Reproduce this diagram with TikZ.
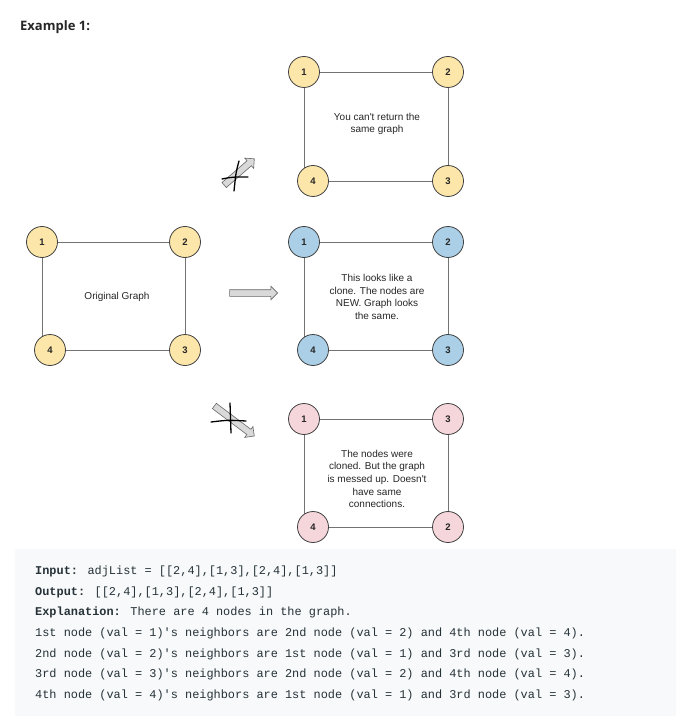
\documentclass[tikz,border=0pt]{standalone}
\usepackage{fontspec}
\setmainfont{Liberation Sans}
\newfontfamily\codefont{Liberation Mono}
\newfontfamily\headfont{Open Sans}
\usepackage{tikz}
\usetikzlibrary{backgrounds,shapes.arrows}

\definecolor{nodeyellow}{HTML}{FCE6A9}
\definecolor{nodeblue}{HTML}{AACFE6}
\definecolor{nodepink}{HTML}{F5D6DB}
\definecolor{codebg}{HTML}{F7F9FA}
\definecolor{codetext}{HTML}{263238}

\begin{document}
\begin{tikzpicture}[x=1pt, y=-1pt, auto,
    thin,main node/.style={circle,draw=black!75,line width=0.8pt,minimum size=31pt,
      inner sep=0pt,font=\bfseries\fontsize{9.5}{10}\selectfont,text=black!85},
    old/.style={main node,fill=nodeyellow},
    clone/.style={main node,fill=nodeblue},
    wrong/.style={main node,fill=nodepink},
    edge/.style={draw=black!55,line width=0.9pt},
    note/.style={align=center,text=black!85,font=\fontsize{10}{12.7}\selectfont},
    fat arrow/.style={single arrow,draw=black!60,fill=black!15,line width=0.6pt,
      inner xsep=0pt,inner ysep=3pt,single arrow head extend=3.5pt,
      single arrow tip angle=90},
    cross/.style={draw=black,line width=1.3pt,line cap=round},
    code line/.style={anchor=west,inner sep=0pt,text=codetext,
      font=\codefont\fontsize{11.9}{12}\selectfont}]

    \useasboundingbox (0,0) rectangle (675,727);

    \node[anchor=west,inner sep=0pt,text=black!85,font=\headfont\bfseries\fontsize{13}{14}\selectfont]
      (title) at (20,27) {Example 1:};

    % the same graph returned
    \node[old] (a1) at (304,72) {1};
    \node[old] (a2) at (448,72) {2};
    \node[old] (a3) at (448,181) {3};
    \node[old] (a4) at (313,181) {4};
    \node[note] (anote) at (377,124) {You can\textquotesingle t return the\\same graph};

    % original graph
    \node[old] (o1) at (42,242) {1};
    \node[old] (o2) at (185,242) {2};
    \node[old] (o3) at (185,350) {3};
    \node[old] (o4) at (50,350) {4};
    \node[note] (onote) at (117,297) {Original Graph};

    % good clone
    \node[clone] (b1) at (304,242) {1};
    \node[clone] (b2) at (448,242) {2};
    \node[clone] (b3) at (448,350) {3};
    \node[clone] (b4) at (313,350) {4};
    \node[note] (bnote) at (377,297) {This looks like a\\clone. The nodes are\\NEW. Graph looks\\the same.};

    % wrong clone
    \node[wrong] (c1) at (304,419) {1};
    \node[wrong] (c2) at (448,419) {3};
    \node[wrong] (c3) at (448,527) {2};
    \node[wrong] (c4) at (313,527) {4};
    \node[note] (cnote) at (377,479) {The nodes were\\cloned. But the graph\\is messed up. Doesn\textquotesingle t\\have same\\connections.};

    \begin{scope}[on background layer]
      \foreach \g in {a,o,b,c} {
        \path[edge] (\g1) -- (\g2) -- (\g3);
        \path[edge] (\g4) -- (\g3);
        \path[edge] (\g1) -- (\g1 |- \g4);
      }
    \end{scope}

    % arrows
    \node[fat arrow,minimum height=48pt] (good) at (252,293) {};
    \node[fat arrow,minimum height=40pt,rotate=41] (badtop) at (238,173) {};
    \node[fat arrow,minimum height=50pt,rotate=-37] (badbottom) at (233,420) {};
    \draw[cross] (239,161) .. controls (236,172) .. (234,191);
    \draw[cross] (222,179) .. controls (232,177) .. (248,177);
    \draw[cross] (230,403) .. controls (231,418) .. (231,433);
    \draw[cross] (211,422) .. controls (228,420) .. (246,421);

    % code block
    \fill[codebg, rounded corners=2pt] (15,549) rectangle (680,716);
    \node[code line] (l1) at (35,571) {\textbf{Input:} adjList = [[2,4],[1,3],[2,4],[1,3]]};
    \node[code line] (l2) at (35,592) {\textbf{Output:} [[2,4],[1,3],[2,4],[1,3]]};
    \node[code line] (l3) at (35,612) {\textbf{Explanation:} There are 4 nodes in the graph.};
    \node[code line] (l4) at (35,633) {1st node (val = 1)\textquotesingle s neighbors are 2nd node (val = 2) and 4th node (val = 4).};
    \node[code line] (l5) at (35,654) {2nd node (val = 2)\textquotesingle s neighbors are 1st node (val = 1) and 3rd node (val = 3).};
    \node[code line] (l6) at (35,674) {3rd node (val = 3)\textquotesingle s neighbors are 2nd node (val = 2) and 4th node (val = 4).};
    \node[code line] (l7) at (35,695) {4th node (val = 4)\textquotesingle s neighbors are 1st node (val = 1) and 3rd node (val = 3).};
\end{tikzpicture}
\end{document}
